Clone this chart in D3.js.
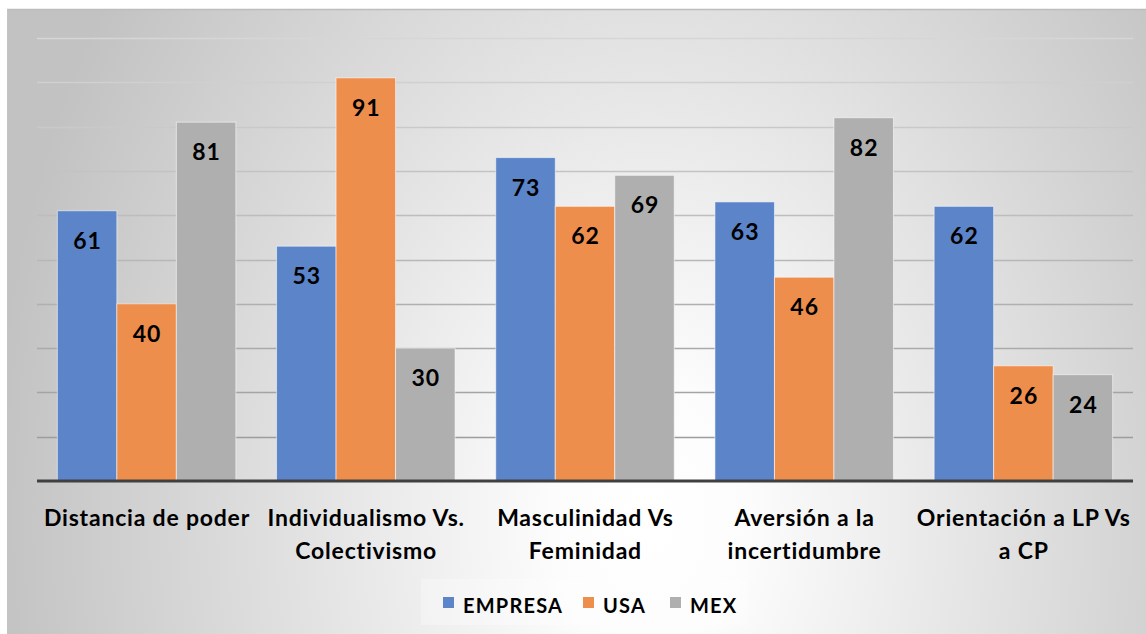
<!DOCTYPE html>
<html><head><meta charset="utf-8">
<script src="https://cdn.jsdelivr.net/npm/d3@7"></script>
<style>html,body{margin:0;padding:0;background:#fff;}svg{display:block;}</style>
</head><body>
<script>
const categories = [["Distancia de poder"], ["Individualismo Vs.", "Colectivismo"], ["Masculinidad Vs", "Feminidad"], ["Aversión a la", "incertidumbre"], ["Orientación a LP Vs", "a CP"]];
const series = ["EMPRESA", "USA", "MEX"];
const empresa = [61, 53, 73, 63, 62];
const usa = [40, 91, 62, 46, 26];
const mex = [81, 30, 69, 82, 24];
const yTicks = [0, 10, 20, 30, 40, 50, 60, 70, 80, 90, 100];
const colors = ["#5b84c9", "#ee8e4d", "#afafaf"];

(function () {
const values = [empresa, usa, mex];
const W = 1146, H = 634;
const svg = d3.select("body").append("svg").attr("width", W).attr("height", H);
const defs = svg.append("defs");
const grad = defs.append("radialGradient").attr("id", "bg")
  .attr("gradientUnits", "userSpaceOnUse")
  .attr("cx", 0).attr("cy", 0).attr("r", 1)
  .attr("gradientTransform", "translate(650,520) scale(660,920)");
grad.append("stop").attr("offset", "0").attr("stop-color", "#ffffff");
grad.append("stop").attr("offset", "0.15").attr("stop-color", "#fcfcfc");
grad.append("stop").attr("offset", "1").attr("stop-color", "#c2c2c2");

svg.append("rect").attr("x", 7).attr("y", 9).attr("width", W - 7).attr("height", H - 9).attr("fill", "url(#bg)");
svg.append("line").attr("x1", 7).attr("x2", W).attr("y1", 9.5).attr("y2", 9.5).attr("stroke", "#bdbdbd").attr("stroke-width", 1.5);
svg.append("line").attr("x1", 7.5).attr("x2", 7.5).attr("y1", 9).attr("y2", H).attr("stroke", "#c4c4c4").attr("stroke-width", 1);

const pLeft = 37, pRight = 1133, pTop = 38, base = 481;
const x = d3.scaleBand().domain(d3.range(categories.length)).range([pLeft, pRight]).paddingInner(0).paddingOuter(0);
const x1 = d3.scaleBand().domain(series).range([0, x.bandwidth()]).paddingInner(0).paddingOuter(0.342);
const y = d3.scaleLinear().domain([0, 100]).range([base, pTop]);

const gc = d3.interpolateRgb("#d6d6d6", "#979797");
svg.append("g").selectAll("line").data(yTicks.filter(t => t > 0)).join("line")
  .attr("x1", pLeft).attr("x2", pRight)
  .attr("y1", d => Math.round(y(d)) + 0.5).attr("y2", d => Math.round(y(d)) + 0.5)
  .attr("stroke", d => gc(1 - d / 100)).attr("stroke-width", 1.5);

const font = "Lato, 'Open Sans', sans-serif";
const g = svg.append("g");
series.forEach((s, si) => {
  values[si].forEach((v, ci) => {
    const bx = x(ci) + x1(s);
    g.append("rect").attr("x", bx).attr("y", y(v)).attr("width", x1.bandwidth()).attr("height", base - y(v))
      .attr("fill", colors[si]).attr("stroke", "rgba(255,255,255,0.55)").attr("stroke-width", 1);
    g.append("text").attr("x", bx + x1.bandwidth() / 2 + 0.5).attr("y", y(v) + 38)
      .attr("text-anchor", "middle").attr("font-family", font).attr("font-weight", 700)
      .attr("font-size", 23).attr("letter-spacing", 1).attr("fill", "#000").text(v);
  });
});

svg.append("line").attr("x1", pLeft).attr("x2", pRight).attr("y1", base).attr("y2", base)
  .attr("stroke", "#404040").attr("stroke-width", 3);

categories.forEach((lines, ci) => {
  const t = svg.append("text").attr("text-anchor", "middle").attr("font-family", font)
    .attr("font-weight", 700).attr("font-size", 23).attr("letter-spacing", 0.8).attr("fill", "#000");
  lines.forEach((ln, li) => {
    t.append("tspan").attr("x", x(ci) + x.bandwidth() / 2 + 0.4).attr("y", 526 + li * 33).text(ln);
  });
});

// legend
svg.append("rect").attr("x", 421).attr("y", 579).attr("width", 327).attr("height", 46)
  .attr("fill", "rgba(255,255,255,0.3)");
const legX = [443, 583, 670];
series.forEach((s, i) => {
  svg.append("rect").attr("x", legX[i]).attr("y", 597).attr("width", 11).attr("height", 11).attr("fill", colors[i]);
  svg.append("text").attr("x", legX[i] + 20).attr("y", 613).attr("font-family", font).attr("font-weight", 700)
    .attr("font-size", 20).attr("letter-spacing", 1.2).attr("fill", "#000").text(s);
});
})();
</script>
</body></html>
